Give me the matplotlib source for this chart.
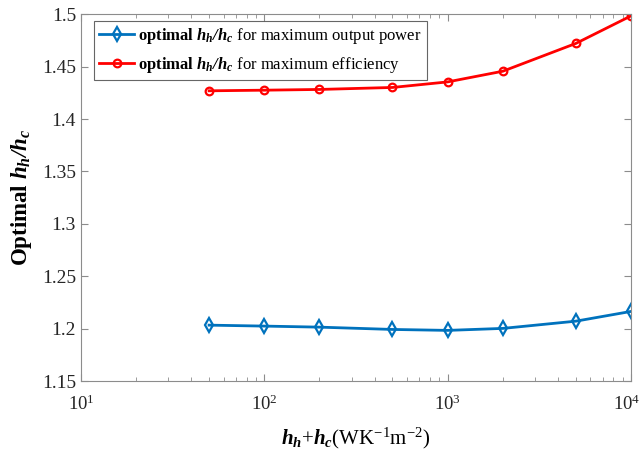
import matplotlib
matplotlib.use("Agg")
import matplotlib.pyplot as plt
import matplotlib.transforms as mtransforms
from matplotlib.ticker import FixedLocator, FixedFormatter, LogLocator, NullFormatter

plt.rcParams['font.family'] = ['Liberation Serif', 'DejaVu Serif']
plt.rcParams['mathtext.fontset'] = 'custom'
plt.rcParams['mathtext.rm'] = 'Liberation Serif'
plt.rcParams['mathtext.it'] = 'Liberation Serif:italic'
plt.rcParams['mathtext.bf'] = 'Liberation Serif:bold'
plt.rcParams['mathtext.bfit'] = 'Liberation Serif:bold:italic'

x_vals = [50, 100, 200, 500, 1000, 2000, 5000, 10000]
power_ratio = [1.2034, 1.2025, 1.2015, 1.1993, 1.1984, 1.2003, 1.2072, 1.2165]
eff_ratio = [1.4269, 1.4275, 1.4282, 1.4301, 1.4354, 1.4456, 1.4721, 1.4984]
y_ticks = [1.15, 1.2, 1.25, 1.3, 1.35, 1.4, 1.45, 1.5]
y_tick_labels = ['1.15', '1.2', '1.25', '1.3', '1.35', '1.4', '1.45', '1.5']
x_ticks = [10, 100, 1000, 10000]
x_tick_labels = [r'$10^{1}$', r'$10^{2}$', r'$10^{3}$', r'$10^{4}$']

fig = plt.figure(figsize=(6.42, 4.57), dpi=100)
ax = fig.add_axes([0.126, 0.166, 0.857, 0.803])

lbl = r'$\mathbf{optimal}\ \mathbfit{h_h/h_c}$'
ax.plot(x_vals, power_ratio, color='#0072BD', lw=2, marker='d', ms=7,
        mfc='none', mew=1.6,
        label=lbl + ' for maximum output power')
ax.plot(x_vals, eff_ratio, color='#FF0000', lw=2, marker='o', ms=5.5,
        mfc='none', mew=1.6,
        label=lbl + ' for maximum efficiency')

ax.set_xscale('log')
ax.set_xlim(10, 10000)
ax.set_ylim(1.15, 1.5)
ax.yaxis.set_major_locator(FixedLocator(y_ticks))
ax.yaxis.set_major_formatter(FixedFormatter(y_tick_labels))
ax.xaxis.set_major_locator(FixedLocator(x_ticks))
ax.xaxis.set_major_formatter(FixedFormatter(x_tick_labels))
ax.xaxis.set_minor_locator(LogLocator(base=10, subs=range(2, 10), numticks=20))
ax.xaxis.set_minor_formatter(NullFormatter())

spine_col = '#8c8c8c'
for s in ax.spines.values():
    s.set_color(spine_col)
    s.set_linewidth(0.8)
ax.tick_params(which='both', direction='in', top=True, right=True,
               color=spine_col, labelsize=14, labelcolor='#262626')
ax.tick_params(which='major', length=5)
ax.tick_params(which='minor', length=3)
ax.tick_params(axis='x', which='major', pad=10, labelsize=13.5)

ax.set_ylabel(r'Optimal $\mathbfit{h_h/h_c}$', fontsize=16.5, fontweight='bold', labelpad=6)
ax.set_xlabel(r'$\mathbfit{h_h}$+$\mathbfit{h_c}$(WK$^{-1}$m$^{-2}$)', fontsize=15, labelpad=8)

leg = ax.legend(loc='upper left', fontsize=12, frameon=True, fancybox=False,
                edgecolor='#404040', handlelength=2.1, borderpad=0.3,
                labelspacing=0.55, handletextpad=0.25, borderaxespad=0,
                bbox_to_anchor=(0.024, 0.981))
leg.get_frame().set_linewidth(0.8)

fig.canvas.draw()
last = ax.xaxis.get_majorticklabels()[-1]
last.set_transform(last.get_transform() +
                   mtransforms.ScaledTranslation(-4 / 100, 0, fig.dpi_scale_trans))

fig.savefig('out.png', dpi=100, facecolor='white')
